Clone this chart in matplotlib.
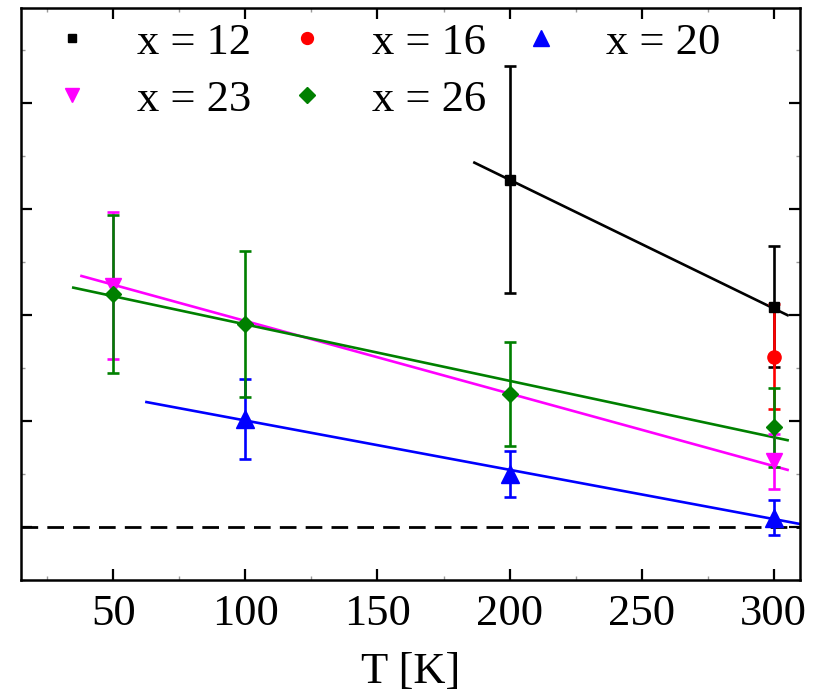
import matplotlib
matplotlib.use("Agg")
import matplotlib.pyplot as plt
from matplotlib.lines import Line2D
from matplotlib.ticker import MultipleLocator, NullFormatter

plt.rcParams['font.family'] = ['Liberation Serif', 'DejaVu Serif']

# ---- data ----
labels = ["x = 12", "x = 16", "x = 20", "x = 23", "x = 26"]
colors = ["black", "red", "blue", "magenta", "green"]
markers = ["s", "o", "^", "v", "D"]
msizes = [7, 9.5, 12.5, 11.5, 8.5]

T12 = [200, 300]
y12 = [3.28, 2.08]
e12 = [1.07, 0.57]

T16 = [300]
y16 = [1.61]
e16 = [0.50]

T20 = [100, 200, 300]
y20 = [1.02, 0.50, 0.09]
e20 = [0.38, 0.22, 0.165]

T23 = [50, 300]
y23 = [2.28, 0.62]
e23 = [0.69, 0.26]

T26 = [50, 100, 200, 300]
y26 = [2.20, 1.915, 1.255, 0.94]
e26 = [0.745, 0.69, 0.49, 0.37]

# linear fits: (T_start, T_end, y_start, y_end)
fit12 = (186.7, 305.3, 3.44, 2.00)
fit20 = (62.5, 312.0, 1.18, 0.02)
fit23 = (37.9, 305.3, 2.37, 0.54)
fit26 = (34.8, 305.3, 2.26, 0.82)

series = [(T12, y12, e12, fit12), (T16, y16, e16, None), (T20, y20, e20, fit20),
          (T23, y23, e23, fit23), (T26, y26, e26, fit26)]

xticks = [50, 100, 150, 200, 250, 300]

fig = plt.figure(figsize=(8.21, 6.93), dpi=100)
ax = fig.add_axes([0.0256, 0.163, 0.9488, 0.8255])

ax.axhline(0, color='black', ls=(0, (6, 3.3)), lw=2.0, zorder=1)

handles = []
for (T, y, e, fit), lab, c, m, ms in zip(series, labels, colors, markers, msizes):
    ax.errorbar(T, y, yerr=e, fmt=m, color=c, ms=ms, elinewidth=1.9,
                capsize=4, capthick=1.9, zorder=3)
    if fit is not None:
        ax.plot([fit[0], fit[1]], [fit[2], fit[3]], color=c, lw=1.9, zorder=2)
    handles.append(Line2D([], [], ls='none', marker=m, color=c, ms=ms * 0.9, label=lab))

ax.set_xlim(15, 310)
ax.set_ylim(-0.5, 4.9)
ax.set_xticks(xticks)
ax.xaxis.set_minor_locator(MultipleLocator(25))
ax.yaxis.set_major_locator(MultipleLocator(1))
ax.yaxis.set_minor_locator(MultipleLocator(0.5))
ax.yaxis.set_major_formatter(NullFormatter())
ax.tick_params(which='both', direction='in', top=True, right=True)
ax.tick_params(which='major', length=8, width=1.6, labelsize=32, pad=10)
ax.tick_params(which='minor', length=3, width=1.0, color='#999999')
for s in ax.spines.values():
    s.set_linewidth(1.8)

ax.set_xlabel("T [K]", fontsize=32, labelpad=13)

# row-wise order for a 3-column legend
order = [0, 3, 1, 4, 2]
leg = ax.legend([handles[i] for i in order], [labels[i] for i in order],
                loc='upper left', bbox_to_anchor=(0.037, 0.974), ncol=3,
                frameon=False, fontsize=32, handletextpad=0.96,
                columnspacing=0.75, borderaxespad=0, borderpad=0,
                labelspacing=0.37, handlelength=1.0)

fig.savefig("out.png", dpi=100)
